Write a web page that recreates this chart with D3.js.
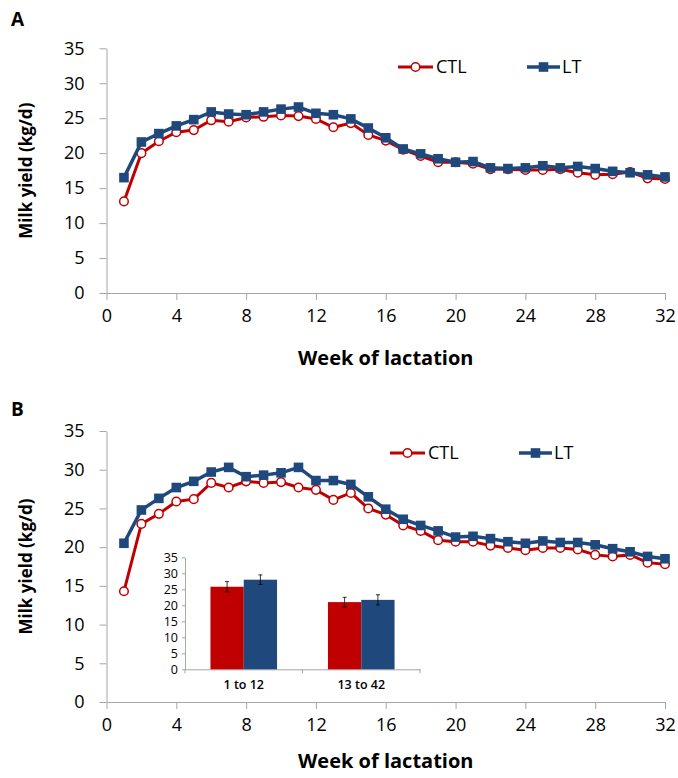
<!DOCTYPE html>
<meta charset="utf-8">
<style>
body { margin: 0; background: #fff; }
svg text { font-family: "Open Sans", sans-serif; fill: #000; }
.axis path, .axis line { stroke: #a6a6a6; stroke-width: 1; fill: none; }
.axis text { font-size: 18px; }
.inset .axis text { font-size: 12.5px; }
.title { font-weight: bold; }
</style>
<body>
<script src="https://d3js.org/d3.v7.min.js"></script>
<script>
// weeks of lactation
var weeks = [1,2,3,4,5,6,7,8,9,10,11,12,13,14,15,16,17,18,19,20,21,22,23,24,25,26,27,28,29,30,31,32];
var xTicks = [0,4,8,12,16,20,24,28,32];
var yTicks = [0,5,10,15,20,25,30,35];

// panel A
var ctlA = [13.1,20.0,21.7,23.0,23.3,24.7,24.5,25.1,25.2,25.4,25.3,24.9,23.7,24.3,22.6,21.8,20.5,19.6,18.7,18.7,18.5,17.7,17.7,17.6,17.6,17.7,17.2,16.9,17.0,17.3,16.4,16.3];
var ltA  = [16.5,21.6,22.8,23.9,24.8,25.9,25.6,25.5,25.9,26.3,26.6,25.7,25.5,24.9,23.6,22.2,20.6,19.9,19.2,18.7,18.8,17.9,17.8,17.9,18.2,17.9,18.1,17.8,17.4,17.2,16.9,16.6];

// panel B
var ctlB = [14.3,23.0,24.3,25.9,26.2,28.3,27.7,28.5,28.3,28.4,27.7,27.4,26.1,27.0,25.0,24.2,22.8,22.1,20.9,20.7,20.7,20.2,19.9,19.6,19.9,19.9,19.7,19.0,18.8,19.0,18.0,17.8];
var ltB  = [20.5,24.8,26.3,27.7,28.5,29.7,30.3,29.1,29.3,29.6,30.3,28.6,28.6,28.1,26.5,24.9,23.6,22.8,22.1,21.3,21.4,21.1,20.7,20.5,20.8,20.6,20.6,20.3,19.8,19.4,18.8,18.5];

// inset bars (panel B)
var periods = ["1 to 12", "13 to 42"];
var insetCTL = [25.8, 21.0];
var insetLT  = [28.0, 21.7];
var insetErrCTL = [1.6, 1.5];
var insetErrLT  = [1.5, 1.6];
var insetTicks = [0,5,10,15,20,25,30,35];

var red = "#c00000", blue = "#1f497d";

var svg = d3.select("body").append("svg")
    .attr("width", 678)
    .attr("height", 778);

function drawPanel(letter, ctl, lt, top, bottom, letterY, legendY, legendX, titleOff) {
    var x = d3.scaleLinear().domain([0, 32]).range([106.5, 665]);
    var y = d3.scaleLinear().domain([0, 35]).range([bottom, top]);

    var g = svg.append("g");

    g.append("text").attr("class", "title")
        .attr("x", 11).attr("y", letterY)
        .style("font-size", "19px")
        .text(letter);

    // y axis
    g.append("g").attr("class", "axis")
        .attr("transform", "translate(" + x(0) + ",0)")
        .call(d3.axisLeft(y).tickValues(yTicks).tickSize(7).tickSizeOuter(0).tickPadding(15));
    // x axis
    g.append("g").attr("class", "axis")
        .attr("transform", "translate(0," + y(0) + ")")
        .call(d3.axisBottom(x).tickValues(xTicks).tickSize(7).tickSizeOuter(0).tickPadding(9));

    g.append("text").attr("class", "title")
        .attr("transform", "translate(32," + ((top + bottom) / 2) + ") rotate(-90)")
        .attr("text-anchor", "middle")
        .style("font-size", "17px")
        .text("Milk yield (kg/d)");

    g.append("text").attr("class", "title")
        .attr("x", (x(0) + x(32)) / 2).attr("y", bottom + titleOff)
        .attr("text-anchor", "middle")
        .style("font-size", "20px")
        .text("Week of lactation");

    var line = d3.line()
        .x(function(d, i) { return x(weeks[i]); })
        .y(function(d) { return y(d); });

    // CTL
    g.append("path").datum(ctl)
        .attr("d", line)
        .attr("fill", "none").attr("stroke", red).attr("stroke-width", 3);
    g.selectAll(".ctl").data(ctl).enter().append("circle")
        .attr("class", "ctl")
        .attr("cx", function(d, i) { return x(weeks[i]); })
        .attr("cy", function(d) { return y(d); })
        .attr("r", 4.3)
        .attr("fill", "#fff").attr("stroke", red).attr("stroke-width", 1.5);

    // LT
    g.append("path").datum(lt)
        .attr("d", line)
        .attr("fill", "none").attr("stroke", blue).attr("stroke-width", 3.5);
    g.selectAll(".lt").data(lt).enter().append("rect")
        .attr("class", "lt")
        .attr("x", function(d, i) { return x(weeks[i]) - 4.8; })
        .attr("y", function(d) { return y(d) - 4.8; })
        .attr("width", 9.6).attr("height", 9.6)
        .attr("fill", blue);

    // legend
    var lg = g.append("g").attr("transform", "translate(" + legendX + "," + legendY + ")");
    lg.append("line").attr("x1", 0).attr("x2", 35).attr("stroke", red).attr("stroke-width", 3);
    lg.append("circle").attr("cx", 17.5).attr("r", 4.3).attr("fill", "#fff").attr("stroke", red).attr("stroke-width", 1.5);
    lg.append("text").attr("x", 38).attr("y", 6).style("font-size", "18px").text("CTL");
    lg.append("line").attr("x1", 129).attr("x2", 162).attr("stroke", blue).attr("stroke-width", 3.5);
    lg.append("rect").attr("x", 145.5 - 4.8).attr("y", -4.8).attr("width", 9.6).attr("height", 9.6).attr("fill", blue);
    lg.append("text").attr("x", 164).attr("y", 6).style("font-size", "18px").text("LT");

    return g;
}

drawPanel("A", ctlA, ltA, 48.3, 293, 26, 67, 398, 72);
drawPanel("B", ctlB, ltB, 431, 702, 416, 453, 390, 66);

// inset bar chart
var inset = svg.append("g").attr("class", "inset");
var ix = d3.scaleBand().domain(periods).range([185, 420]);
var iy = d3.scaleLinear().domain([0, 35]).range([669.3, 557.3]);

inset.append("g").attr("class", "axis")
    .attr("transform", "translate(185,0)")
    .call(d3.axisLeft(iy).tickValues(insetTicks).tickSize(3).tickSizeOuter(0).tickPadding(4));
var ixa = inset.append("g").attr("class", "axis")
    .attr("transform", "translate(0," + iy(0) + ")")
    .call(d3.axisBottom(ix).tickSize(0).tickSizeOuter(0).tickPadding(11));
ixa.selectAll("text").style("font-weight", "600").style("font-size", "12.5px");
// ticks between categories
ixa.selectAll(".sep").data([185, 302.5, 420]).enter().append("line")
    .attr("class", "sep")
    .attr("x1", function(d) { return d; }).attr("x2", function(d) { return d; })
    .attr("y1", 0).attr("y2", 4);

var barW = 33.3;
function bars(vals, errs, color, offset) {
    inset.selectAll(null).data(vals).enter().append("rect")
        .attr("x", function(d, i) { return ix(periods[i]) + ix.bandwidth() / 2 + offset; })
        .attr("y", function(d) { return iy(d); })
        .attr("width", barW)
        .attr("height", function(d) { return iy(0) - iy(d); })
        .attr("fill", color);
    var e = inset.selectAll(null).data(vals).enter().append("g")
        .attr("transform", function(d, i) { return "translate(" + (ix(periods[i]) + ix.bandwidth() / 2 + offset + barW / 2) + ",0)"; });
    e.append("line").attr("y1", function(d, i) { return iy(d - errs[i]); }).attr("y2", function(d, i) { return iy(d + errs[i]); })
        .attr("stroke", "#000").attr("stroke-width", 0.8);
    e.append("line").attr("x1", -2).attr("x2", 2).attr("y1", function(d, i) { return iy(d + errs[i]); }).attr("y2", function(d, i) { return iy(d + errs[i]); })
        .attr("stroke", "#000").attr("stroke-width", 0.8);
    e.append("line").attr("x1", -2).attr("x2", 2).attr("y1", function(d, i) { return iy(d - errs[i]); }).attr("y2", function(d, i) { return iy(d - errs[i]); })
        .attr("stroke", "#000").attr("stroke-width", 0.8);
}
bars(insetCTL, insetErrCTL, red, -barW);
bars(insetLT, insetErrLT, blue, 0);
</script>
</body>
